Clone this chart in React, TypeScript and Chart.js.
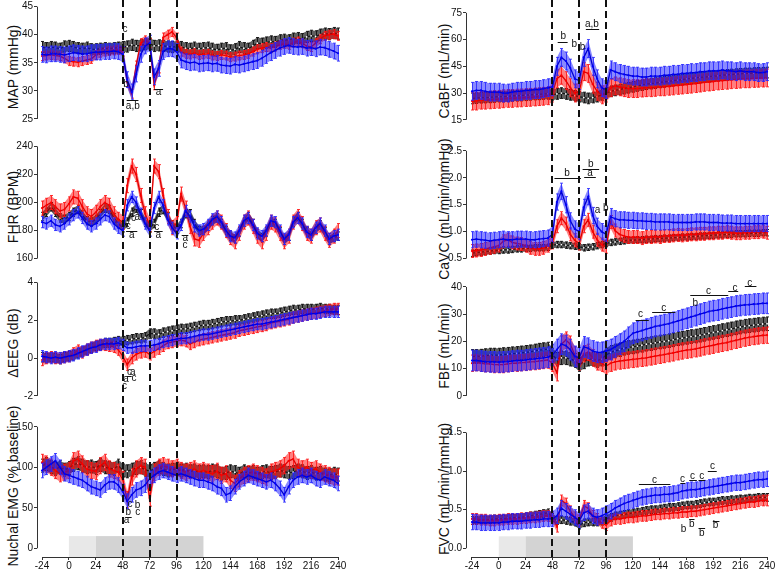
import React, { useEffect, useRef } from "react";
import { Chart, registerables } from "chart.js";

Chart.register(...registerables);

const FONT = '"Liberation Sans", Arial, Helvetica, sans-serif';

// ---------- time axis ----------
const HOURS = [
  -24, -20, -16, -12, -8, -4,
  0, 4, 8, 12, 16, 20,
  24, 28, 32, 36, 40, 44,
  48, 52, 56, 60, 64, 68,
  72, 76, 80, 84, 88, 92,
  96, 100, 104, 108, 112, 116,
  120, 124, 128, 132, 136, 140,
  144, 148, 152, 156, 160, 164,
  168, 172, 176, 180, 184, 188,
  192, 196, 200, 204, 208, 212,
  216, 220, 224, 228, 232, 236,
  240,
];
const X_TICKS = [-24, 0, 24, 48, 72, 96, 120, 144, 168, 192, 216, 240];
const EVENT_HOURS = [48, 72, 96];
const SHADE_LIGHT_HOURS = [0, 24];
const SHADE_DARK_HOURS = [24, 120];

// ---------- MAP ----------
const MAP_TICKS = [25, 30, 35, 40, 45];
const MAP_BLACK = [
  37.8, 37.6, 37.8, 37.7, 37.5, 37.9,
  38.0, 37.8, 37.6, 37.5, 37.7, 37.4,
  37.4, 37.5, 37.6, 37.5, 37.6, 37.7,
  37.8, 37.9, 38.2, 38.0, 38.1, 38.3,
  38.4, 38.0, 38.1, 38.0, 37.9, 37.8,
  37.9, 37.8, 37.6, 37.5, 37.7, 37.5,
  37.6, 37.7, 37.5, 37.3, 37.5, 37.6,
  37.2, 37.4, 37.8, 37.6, 37.5, 38.0,
  38.5, 38.4, 38.6, 38.8, 38.7, 39.0,
  39.1, 39.0, 39.3, 39.4, 39.2, 39.6,
  39.8, 39.7, 40.0, 40.2, 40.1, 40.3,
  40.2,
];
const MAP_RED = [
  36.2, 36.3, 36.4, 36.3, 36.2, 35.8,
  35.3, 35.2, 35.1, 35.3, 35.5, 35.7,
  36.4, 36.8, 37.0, 37.1, 37.2, 37.3,
  37.0, 31.5, 29.5, 34.5, 38.5, 39.0,
  38.5, 31.0, 34.0, 39.5, 40.0, 40.5,
  39.5, 37.0, 36.6, 36.5, 36.7, 36.4,
  36.5, 36.6, 36.3, 36.2, 36.4, 36.3,
  36.0, 36.1, 36.3, 36.4, 36.6, 37.0,
  37.4, 37.6, 37.8, 37.6, 37.9, 38.2,
  38.4, 38.2, 38.6, 38.8, 38.5, 38.0,
  37.8, 38.5, 39.2, 39.8, 40.0, 40.1,
  39.8,
];
const MAP_BLUE = [
  36.5, 36.4, 36.6, 36.6, 36.5, 36.4,
  36.6, 36.8, 36.7, 36.6, 36.6, 36.8,
  36.9, 36.9, 37.0, 37.0, 37.1, 37.0,
  36.5, 32.0, 29.8, 33.0, 36.5, 38.0,
  38.5, 32.5, 34.0, 37.0, 37.5, 37.5,
  37.0, 35.5, 35.2, 35.0, 35.1, 34.8,
  34.9, 35.0, 34.8, 34.9, 34.6, 34.5,
  34.4, 34.7, 34.6, 34.8, 35.0, 35.2,
  35.4, 35.8, 36.3, 36.8, 37.2, 37.6,
  37.9, 38.1, 37.9, 37.8, 37.9, 37.6,
  37.7, 37.5, 37.8, 37.7, 37.4, 37.1,
  36.7,
];
const MAP_SEM = [1.0, 0.8, 1.4];
const MAP_NOTES: [string, number, number][] = [["c", 50, 41.0], ["b", 51, 31.2], ["a,b", 57, 27.3], ["a", 80, 29.7]];
const MAP_RULES: [number, number, number][] = [[51.5, 62, 28.4], [76, 84, 30.4]];

// ---------- FHR ----------
const FHR_TICKS = [160, 180, 200, 220, 240];
const FHR_BLACK = [
  190, 193, 197, 193, 189, 188,
  190, 193, 195, 191, 187, 186,
  188, 192, 196, 195, 189, 185,
  182, 186, 193, 196, 192, 186,
  182, 185, 193, 195, 190, 184,
  181, 185, 192, 192, 185, 180,
  180, 183, 187, 189, 185, 180,
  176, 174, 179, 186, 190, 185,
  178, 175, 179, 186, 185, 179,
  173, 176, 186, 190, 185, 179,
  176, 181, 184, 179, 173, 175,
  176,
];
const FHR_RED = [
  196, 198, 200, 197, 194, 195,
  199, 204, 203, 197, 192, 190,
  193, 197, 200, 198, 192, 188,
  186, 212, 226, 220, 205, 192,
  184, 226, 222, 205, 190, 182,
  185, 206, 196, 183, 174, 173,
  178, 182, 186, 189, 186, 180,
  175, 172, 178, 186, 189, 183,
  176, 172, 178, 186, 184, 178,
  172, 176, 186, 190, 185, 178,
  176, 182, 184, 178, 173, 176,
  180,
];
const FHR_BLUE = [
  186, 185, 187, 184, 183, 185,
  188, 191, 193, 189, 185, 183,
  185, 188, 191, 190, 185, 182,
  180, 198, 204, 200, 192, 185,
  180, 196, 204, 198, 188, 182,
  178, 184, 194, 190, 183, 180,
  181, 184, 188, 190, 186, 180,
  176, 175, 180, 187, 189, 184,
  178, 176, 180, 187, 186, 180,
  174, 177, 186, 189, 185, 179,
  177, 182, 185, 180, 174, 176,
  177,
];
const FHR_SEM = [3, 5, 4];
const FHR_NOTES: [string, number, number][] = [
  ["c", 53, 182.9], ["a", 56, 176.4], ["c", 57.5, 189.0], ["a", 61, 189.7],
  ["c", 78.3, 182.0], ["a", 79.8, 176.4],
  ["a", 103.9, 174.3], ["c", 103.6, 169.4],
];
const FHR_RULES: [number, number, number][] = [[51, 61, 179.9], [76, 83.6, 179.5], [100.6, 106.5, 176.8]];

// ---------- ΔEEG ----------
const EEG_TICKS = [-2, 0, 2, 4];
const EEG_BLACK = [
  0.05, 0.0, 0.05, 0.0, -0.05, 0.05,
  0.1, 0.15, 0.25, 0.35, 0.45, 0.55,
  0.65, 0.7, 0.8, 0.8, 0.85, 0.9,
  0.9, 0.95, 1.0, 1.05, 1.05, 1.1,
  1.3, 1.3, 1.25, 1.35, 1.4, 1.45,
  1.5, 1.55, 1.55, 1.6, 1.65, 1.7,
  1.75, 1.75, 1.8, 1.85, 1.9, 1.95,
  1.95, 2.0, 2.0, 2.05, 2.1, 2.15,
  2.2, 2.25, 2.3, 2.35, 2.35, 2.4,
  2.45, 2.5, 2.55, 2.55, 2.6, 2.6,
  2.6, 2.6, 2.65, 2.6, 2.6, 2.55,
  2.55,
];
const EEG_RED = [
  -0.1, 0.0, 0.05, 0.0, 0.0, 0.05,
  0.1, 0.25, 0.4, 0.3, 0.45, 0.55,
  0.65, 0.7, 0.7, 0.65, 0.6, 0.45,
  0.1, -0.35, 0.0, 0.2, 0.3, 0.35,
  0.2, 0.35, 0.5, 0.65, 0.8, 0.85,
  0.9, 0.95, 0.9, 0.75, 0.85, 0.95,
  1.0, 1.05, 1.1, 1.15, 1.2, 1.25,
  1.3, 1.35, 1.45, 1.5, 1.55, 1.6,
  1.65, 1.7, 1.75, 1.85, 1.9, 1.95,
  2.0, 2.05, 2.15, 2.2, 2.25, 2.3,
  2.35, 2.4, 2.45, 2.5, 2.55, 2.6,
  2.6,
];
const EEG_BLUE = [
  0.1, 0.05, 0.0, 0.05, 0.0, 0.05,
  0.1, 0.15, 0.25, 0.35, 0.45, 0.55,
  0.6, 0.7, 0.75, 0.75, 0.75, 0.8,
  0.7, 0.55, 0.55, 0.6, 0.65, 0.65,
  0.65, 0.7, 0.75, 0.85, 0.9, 0.95,
  1.0, 1.05, 1.05, 1.1, 1.15, 1.2,
  1.25, 1.25, 1.3, 1.35, 1.4, 1.45,
  1.5, 1.55, 1.6, 1.65, 1.7, 1.75,
  1.8, 1.8, 1.85, 1.9, 1.95, 2.0,
  2.05, 2.1, 2.15, 2.2, 2.25, 2.3,
  2.35, 2.35, 2.4, 2.45, 2.45, 2.45,
  2.45,
];
const EEG_SEM = [0.25, 0.3, 0.3];
const EEG_NOTES: [string, number, number][] = [
  ["c", 54, -0.74], ["a", 57, -0.74], ["c", 58, -1.05], ["a", 51, -1.1], ["c", 49.5, -1.5],
];
const EEG_RULES: [number, number, number][] = [[51.5, 56, -0.92]];

// ---------- Nuchal EMG ----------
const EMG_TICKS = [0, 50, 100, 150];
const EMG_BLACK = [
  102, 104, 100, 98, 100, 97,
  99, 103, 105, 102, 100, 101,
  99, 103, 100, 99, 98, 102,
  96, 95, 97, 99, 100, 97,
  95, 98, 100, 98, 96, 97,
  98, 96, 97, 95, 96, 94,
  95, 94, 96, 95, 92, 93,
  95, 94, 92, 95, 93, 94,
  92, 94, 95, 93, 94, 96,
  95, 93, 94, 96, 95, 93,
  94, 92, 93, 91, 90, 92,
  91,
];
const EMG_RED = [
  106, 104, 100, 96, 92, 94,
  96, 108, 110, 104, 98, 96,
  95, 102, 106, 98, 96, 94,
  85, 60, 88, 98, 102, 100,
  62, 94, 100, 102, 100, 98,
  100, 96, 94, 96, 98, 94,
  96, 94, 92, 95, 90, 92,
  84, 80, 86, 90, 92, 94,
  92, 90, 88, 94, 96, 98,
  102, 108, 110, 100, 98, 100,
  96, 98, 94, 92, 90, 88,
  88,
];
const EMG_BLUE = [
  96, 100, 104, 108, 100, 92,
  90, 88, 86, 84, 80, 76,
  74, 72, 78, 82, 82, 78,
  70, 58, 66, 72, 74, 78,
  86, 90, 94, 96, 94, 92,
  90, 92, 90, 88, 86, 84,
  84, 82, 80, 76, 74, 66,
  68, 76, 82, 86, 90, 88,
  86, 84, 82, 84, 80, 74,
  66, 76, 84, 88, 90, 88,
  90, 86, 84, 88, 86, 84,
  80,
];
const EMG_SEM = [8, 10, 9];
const EMG_NOTES: [string, number, number][] = [
  ["c", 54.5, 54.8], ["b", 53, 44.8], ["a", 51.5, 34], ["b", 61.3, 52.8], ["c", 61.3, 44],
];
const EMG_RULES: [number, number, number][] = [[50.5, 56, 39]];

// ---------- CaBF ----------
const CABF_TICKS = [15, 30, 45, 60, 75];
const CABF_BLACK = [
  27.0, 27.2, 27.4, 27.5, 27.6, 27.8,
  28.0, 28.0, 28.2, 28.4, 28.5, 28.6,
  28.8, 29.0, 29.2, 29.3, 29.5, 29.6,
  29.0, 29.5, 30.0, 29.5, 29.0, 28.5,
  28.0, 27.5, 27.0, 27.5, 28.0, 29.0,
  30.0, 31.0, 31.5, 32.0, 32.5, 33.0,
  33.5, 34.0, 34.5, 35.0, 35.3, 35.6,
  36.0, 36.3, 36.6, 37.0, 37.3, 37.6,
  38.0, 38.2, 38.5, 38.8, 39.0, 39.2,
  39.5, 39.7, 40.0, 40.2, 40.4, 40.6,
  40.8, 41.0, 41.0, 41.2, 41.3, 41.4,
  41.5,
];
const CABF_RED = [
  25.5, 25.5, 26.0, 26.0, 26.2, 26.4,
  26.5, 26.8, 27.0, 27.0, 27.2, 27.3,
  27.5, 27.6, 27.8, 28.0, 28.2, 28.5,
  30.0, 38.0, 40.0, 37.0, 33.0, 30.0,
  31.0, 42.0, 41.0, 35.0, 31.0, 29.0,
  30.0, 33.0, 34.0, 33.5, 33.0, 32.5,
  32.5, 32.5, 32.8, 33.0, 33.0, 33.2,
  33.5, 33.5, 33.8, 34.0, 34.3, 34.5,
  34.8, 35.0, 35.3, 35.6, 36.0, 36.2,
  36.5, 36.8, 37.0, 37.2, 37.5, 37.6,
  37.8, 38.0, 38.0, 38.2, 38.3, 38.4,
  38.5,
];
const CABF_BLUE = [
  31.0, 31.5, 31.5, 31.0, 30.5, 30.5,
  30.5, 30.0, 30.0, 30.5, 31.0, 31.0,
  31.5, 31.5, 32.0, 32.0, 32.5, 33.0,
  33.5, 45.0, 50.0, 48.0, 44.0, 38.0,
  37.0, 50.0, 55.0, 45.0, 38.0, 33.0,
  32.0, 43.0, 42.0, 41.0, 40.5, 40.0,
  39.5, 39.5, 39.0, 39.0, 39.5, 39.5,
  39.5, 40.0, 40.0, 40.5, 40.5, 41.0,
  41.0, 41.5, 41.5, 42.0, 42.0, 42.5,
  42.5, 42.5, 43.0, 42.5, 42.5, 42.0,
  42.5, 42.0, 42.0, 42.0, 41.5, 41.5,
  42.0,
];
const CABF_SEM = [3, 5, 5];
const CABF_NOTES: [string, number, number][] = [
  ["b", 57.8, 62.1], ["b", 67.6, 57.6], ["b", 75, 55.9], ["a,b", 83.3, 68.4],
];
const CABF_RULES: [number, number, number][] = [[52.7, 61.6, 58.8], [77.9, 89.8, 65.9]];

// ---------- CaVC ----------
const CAVC_TICKS = [0.5, 1.0, 1.5, 2.0, 2.5];
const CAVC_BLACK = [
  0.60, 0.61, 0.62, 0.63, 0.64, 0.65,
  0.65, 0.66, 0.66, 0.67, 0.68, 0.68,
  0.69, 0.69, 0.70, 0.70, 0.70, 0.71,
  0.75, 0.76, 0.76, 0.75, 0.74, 0.73,
  0.72, 0.70, 0.71, 0.72, 0.74, 0.76,
  0.78, 0.80, 0.81, 0.82, 0.83, 0.84,
  0.84, 0.85, 0.85, 0.86, 0.86, 0.87,
  0.87, 0.88, 0.88, 0.89, 0.89, 0.90,
  0.90, 0.91, 0.91, 0.92, 0.92, 0.93,
  0.93, 0.94, 0.94, 0.95, 0.95, 0.96,
  0.96, 0.96, 0.97, 0.97, 0.97, 0.98,
  0.98,
];
const CAVC_RED = [
  0.64, 0.65, 0.66, 0.68, 0.70, 0.72,
  0.74, 0.82, 0.85, 0.80, 0.78, 0.77,
  0.74, 0.70, 0.68, 0.68, 0.70, 0.74,
  0.80, 1.10, 1.25, 1.15, 0.95, 0.84,
  0.78, 1.10, 1.22, 1.00, 0.85, 0.76,
  0.72, 1.18, 1.02, 0.95, 0.92, 0.90,
  0.90, 0.90, 0.88, 0.90, 0.90, 0.91,
  0.90, 0.92, 0.92, 0.93, 0.94, 0.93,
  0.94, 0.95, 0.95, 0.96, 0.96, 0.97,
  0.97, 0.98, 0.98, 0.99, 0.98, 0.97,
  0.97, 0.98, 0.98, 0.99, 0.99, 1.00,
  0.98,
];
const CAVC_BLUE = [
  0.85, 0.86, 0.85, 0.84, 0.83, 0.84,
  0.85, 0.86, 0.85, 0.85, 0.86, 0.86,
  0.86, 0.85, 0.85, 0.86, 0.87, 0.88,
  0.95, 1.55, 1.75, 1.50, 1.20, 1.05,
  1.00, 1.45, 1.65, 1.30, 1.10, 1.00,
  0.95, 1.28, 1.24, 1.22, 1.22, 1.21,
  1.21, 1.20, 1.20, 1.19, 1.19, 1.18,
  1.18, 1.18, 1.18, 1.17, 1.17, 1.17,
  1.17, 1.17, 1.18, 1.18, 1.18, 1.17,
  1.17, 1.17, 1.16, 1.16, 1.16, 1.15,
  1.15, 1.15, 1.15, 1.15, 1.15, 1.15,
  1.15,
];
const CAVC_SEM = [0.06, 0.12, 0.15];
const CAVC_NOTES: [string, number, number][] = [
  ["b", 61, 2.08], ["b", 82.4, 2.25], ["a", 81.6, 2.09], ["a", 88.3, 1.4], ["b", 95.7, 1.43],
];
const CAVC_RULES: [number, number, number][] = [[49.8, 73.5, 2.0], [75, 89.8, 2.17], [76.4, 86.8, 2.02]];

// ---------- FBF ----------
const FBF_TICKS = [0, 10, 20, 30, 40];
const FBF_BLACK = [
  14.5, 14.5, 14.6, 14.8, 15.0, 15.0,
  15.0, 15.2, 15.3, 15.5, 15.6, 15.8,
  16.0, 16.2, 16.5, 16.8, 17.0, 17.2,
  15.0, 13.5, 14.0, 14.0, 13.5, 13.0,
  11.5, 12.5, 13.5, 13.5, 13.0, 13.5,
  15.0, 16.0, 16.5, 17.0, 17.5, 17.8,
  18.0, 18.3, 18.6, 19.0, 19.2, 19.5,
  19.8, 20.0, 20.3, 20.6, 21.0, 21.2,
  21.5, 21.8, 22.0, 22.3, 22.6, 23.0,
  23.3, 23.6, 24.0, 24.3, 24.6, 25.0,
  25.3, 25.6, 25.8, 26.0, 26.2, 26.4,
  26.5,
];
const FBF_RED = [
  12.0, 12.2, 12.0, 11.8, 11.8, 11.5,
  11.5, 11.5, 11.8, 12.0, 12.0, 12.2,
  12.3, 12.5, 12.6, 12.8, 13.0, 13.2,
  12.0, 8.5, 19.0, 20.5, 19.0, 15.0,
  12.5, 15.5, 16.0, 14.0, 12.5, 12.0,
  11.0, 12.0, 12.5, 12.8, 13.0, 13.2,
  13.4, 13.6, 13.8, 14.0, 14.3, 14.6,
  14.9, 15.2, 15.5, 15.8, 16.2, 16.5,
  16.8, 17.0, 17.3, 17.6, 18.0, 18.3,
  18.6, 19.0, 19.3, 19.6, 20.0, 20.4,
  20.8, 21.2, 21.5, 21.8, 22.0, 22.2,
  22.3,
];
const FBF_BLUE = [
  13.0, 13.0, 12.8, 12.6, 12.5, 12.5,
  12.4, 12.5, 12.6, 12.8, 13.0, 13.0,
  13.2, 13.4, 13.6, 13.8, 14.0, 14.2,
  15.0, 17.0, 19.0, 18.5, 17.0, 14.5,
  14.0, 18.0, 17.5, 16.5, 16.0, 16.0,
  16.5, 17.0, 18.0, 19.0, 20.0, 21.5,
  23.0, 23.5, 24.0, 24.5, 25.0, 25.5,
  25.8, 26.2, 26.5, 27.0, 27.5, 28.0,
  28.5, 29.0, 29.5, 30.0, 30.5, 31.0,
  31.3, 31.5, 32.0, 32.3, 32.6, 33.0,
  33.2, 33.4, 33.5, 33.7, 33.8, 34.0,
  34.0,
];
const FBF_SEM = [2.5, 3, 3.8];
const FBF_NOTES: [string, number, number][] = [
  ["c", 126.8, 29.9], ["c", 147.6, 32.1], ["c", 187.6, 38.6], ["b", 175.7, 34.2],
  ["c", 211.3, 39.7], ["c", 224.6, 41.4],
];
const FBF_RULES: [number, number, number][] = [
  [122.4, 134.2, 28.0], [137.2, 158, 30.7], [171.3, 205.3, 37.2], [205.3, 214.2, 38.4], [220.1, 230.5, 40.2],
];

// ---------- FVC ----------
const FVC_TICKS = [0.0, 0.5, 1.0, 1.5];
const FVC_BLACK = [
  0.36, 0.36, 0.37, 0.37, 0.37, 0.38,
  0.38, 0.38, 0.39, 0.39, 0.40, 0.40,
  0.41, 0.42, 0.43, 0.44, 0.45, 0.46,
  0.40, 0.36, 0.37, 0.36, 0.35, 0.34,
  0.30, 0.33, 0.34, 0.34, 0.34, 0.35,
  0.38, 0.40, 0.42, 0.43, 0.44, 0.45,
  0.46, 0.47, 0.48, 0.49, 0.50, 0.50,
  0.51, 0.52, 0.53, 0.53, 0.54, 0.55,
  0.56, 0.56, 0.57, 0.58, 0.59, 0.60,
  0.60, 0.61, 0.62, 0.62, 0.63, 0.63,
  0.64, 0.64, 0.65, 0.65, 0.66, 0.66,
  0.66,
];
const FVC_RED = [
  0.38, 0.38, 0.37, 0.37, 0.36, 0.36,
  0.37, 0.37, 0.38, 0.38, 0.38, 0.39,
  0.39, 0.40, 0.40, 0.41, 0.42, 0.42,
  0.40, 0.28, 0.62, 0.58, 0.48, 0.40,
  0.36, 0.55, 0.52, 0.42, 0.38, 0.33,
  0.30, 0.36, 0.38, 0.38, 0.39, 0.40,
  0.40, 0.41, 0.42, 0.42, 0.43, 0.44,
  0.44, 0.45, 0.45, 0.46, 0.46, 0.47,
  0.47, 0.48, 0.48, 0.49, 0.50, 0.51,
  0.52, 0.53, 0.54, 0.55, 0.56, 0.57,
  0.58, 0.59, 0.60, 0.60, 0.61, 0.62,
  0.62,
];
const FVC_BLUE = [
  0.34, 0.34, 0.33, 0.33, 0.33, 0.33,
  0.33, 0.34, 0.34, 0.35, 0.35, 0.35,
  0.36, 0.36, 0.37, 0.37, 0.38, 0.38,
  0.38, 0.42, 0.52, 0.48, 0.44, 0.40,
  0.36, 0.46, 0.48, 0.42, 0.40, 0.42,
  0.45, 0.48, 0.52, 0.55, 0.58, 0.60,
  0.62, 0.64, 0.66, 0.67, 0.68, 0.69,
  0.69, 0.70, 0.70, 0.71, 0.72, 0.74,
  0.75, 0.76, 0.76, 0.77, 0.78, 0.79,
  0.80, 0.81, 0.82, 0.83, 0.84, 0.85,
  0.85, 0.86, 0.87, 0.88, 0.89, 0.89,
  0.90,
];
const FVC_SEM = [0.05, 0.07, 0.1];
const FVC_NOTES: [string, number, number][] = [
  ["c", 139.3, 0.882], ["c", 164.4, 0.9], ["c", 173.3, 0.937], ["c", 181.6, 0.937], ["c", 191.1, 1.07],
  ["b", 165.3, 0.252], ["b", 172.7, 0.315], ["b", 181.6, 0.197], ["b", 194, 0.294],
];
const FVC_RULES: [number, number, number][] = [
  [125.3, 153.5, 0.832], [162.4, 166.8, 0.85], [170.4, 177.2, 0.89], [178.7, 184.6, 0.89], [187, 195, 1.008],
  [170.4, 175.1, 0.378], [178.7, 184.6, 0.265], [191.5, 197.4, 0.357],
];

// ---------- layout ----------
const COLS = [
  { left: 0, width: 360, axisX: 37, firstPx: 42, lastPx: 338, rightPx: 352, titleX: 13 },
  { left: 400, width: 378, axisX: 466, firstPx: 472, lastPx: 769, rightPx: 776, titleX: 444 },
];
const ROWS = [
  { top: 0, h: 138 },
  { top: 138, h: 137 },
  { top: 275, h: 140 },
  { top: 415, h: 154 },
];
const X_AXIS_Y = 557;

const STYLES = [
  { line: "#151515", point: "#ffffff", band: "rgba(50,50,50,0.78)", bar: "rgba(20,20,20,0.95)", order: 3 },
  { line: "#e00000", point: "#ff0000", band: "rgba(255,0,0,0.5)", bar: "rgba(255,20,20,0.85)", order: 2 },
  { line: "#0000d0", point: "#0000ff", band: "rgba(20,20,255,0.5)", bar: "rgba(40,40,255,0.85)", order: 1 },
];

type Panel = {
  col: number; row: number; title: string; ticks: number[]; decimals: number;
  px: [number, number]; series: number[][]; sem: number[];
  notes: [string, number, number][]; rules: [number, number, number][]; shadeTop?: number;
};

const PANELS: Panel[] = [
  { col: 0, row: 0, title: "MAP (mmHg)", ticks: MAP_TICKS, decimals: 0, px: [3, 130], series: [MAP_BLACK, MAP_RED, MAP_BLUE], sem: MAP_SEM, notes: MAP_NOTES, rules: MAP_RULES },
  { col: 0, row: 1, title: "FHR (BPM)", ticks: FHR_TICKS, decimals: 0, px: [143, 270], series: [FHR_BLACK, FHR_RED, FHR_BLUE], sem: FHR_SEM, notes: FHR_NOTES, rules: FHR_RULES },
  { col: 0, row: 2, title: "ΔEEG (dB)", ticks: EEG_TICKS, decimals: 0, px: [279, 407], series: [EEG_BLACK, EEG_RED, EEG_BLUE], sem: EEG_SEM, notes: EEG_NOTES, rules: EEG_RULES },
  { col: 0, row: 3, title: "Nuchal EMG (% baseline)", ticks: EMG_TICKS, decimals: 0, px: [423, 548], series: [EMG_BLACK, EMG_RED, EMG_BLUE], sem: EMG_SEM, notes: EMG_NOTES, rules: EMG_RULES, shadeTop: 15 },
  { col: 1, row: 0, title: "CaBF (mL/min)", ticks: CABF_TICKS, decimals: 0, px: [10, 131], series: [CABF_BLACK, CABF_RED, CABF_BLUE], sem: CABF_SEM, notes: CABF_NOTES, rules: CABF_RULES },
  { col: 1, row: 1, title: "CaVC (mL/min/mmHg)", ticks: CAVC_TICKS, decimals: 1, px: [148, 270], series: [CAVC_BLACK, CAVC_RED, CAVC_BLUE], sem: CAVC_SEM, notes: CAVC_NOTES, rules: CAVC_RULES },
  { col: 1, row: 2, title: "FBF (mL/min)", ticks: FBF_TICKS, decimals: 0, px: [284, 407], series: [FBF_BLACK, FBF_RED, FBF_BLUE], sem: FBF_SEM, notes: FBF_NOTES, rules: FBF_RULES },
  { col: 1, row: 3, title: "FVC (mL/min/mmHg)", ticks: FVC_TICKS, decimals: 1, px: [429, 548], series: [FVC_BLACK, FVC_RED, FVC_BLUE], sem: FVC_SEM, notes: FVC_NOTES, rules: FVC_RULES, shadeTop: 0.155 },
];

function PanelChart({ p }: { p: Panel }) {
  const ref = useRef<HTMLCanvasElement>(null);
  const col = COLS[p.col];
  const row = ROWS[p.row];

  useEffect(() => {
    if (!ref.current) return;
    const bottom = p.row === 3;
    const areaTop = row.top;
    const areaBottom = bottom ? X_AXIS_Y : row.top + row.h;
    const tMin = p.ticks[0];
    const tMax = p.ticks[p.ticks.length - 1];
    const k = (p.px[1] - p.px[0]) / (tMax - tMin);
    const yMax = tMax + (p.px[0] - areaTop) / k;
    const yMin = tMin - (areaBottom - p.px[1]) / k;
    const x0 = X_TICKS[0];
    const x1 = X_TICKS[X_TICKS.length - 1];
    const hk = (col.lastPx - col.firstPx) / (x1 - x0);
    const xMin = x0 - (col.firstPx - col.axisX) / hk;
    const xMax = x0 + (col.rightPx - col.firstPx) / hk;

    const errorBars = {
      id: "errorBars",
      beforeDatasetDraw(chart: any, args: any) {
        const ds: any = chart.data.datasets[args.index];
        const meta = args.meta;
        const ys = chart.scales.y;
        const ctx = chart.ctx;
        const pts = ds.data;
        ctx.save();
        ctx.beginPath();
        pts.forEach((pt: any, i: number) => {
          const x = meta.data[i].x;
          const y = ys.getPixelForValue(pt.y + ds.sem);
          if (i === 0) ctx.moveTo(x, y);
          else ctx.lineTo(x, y);
        });
        for (let i = pts.length - 1; i >= 0; i--) {
          ctx.lineTo(meta.data[i].x, ys.getPixelForValue(pts[i].y - ds.sem));
        }
        ctx.closePath();
        ctx.fillStyle = ds.bandColor;
        ctx.fill();
        ctx.strokeStyle = ds.barColor;
        ctx.lineWidth = 1;
        ctx.beginPath();
        pts.forEach((pt: any, i: number) => {
          const x = Math.round(meta.data[i].x) + 0.5;
          const ya = ys.getPixelForValue(pt.y + ds.sem);
          const yb = ys.getPixelForValue(pt.y - ds.sem);
          ctx.moveTo(x, ya);
          ctx.lineTo(x, yb);
          ctx.moveTo(x - 1.5, ya);
          ctx.lineTo(x + 1.5, ya);
          ctx.moveTo(x - 1.5, yb);
          ctx.lineTo(x + 1.5, yb);
        });
        ctx.stroke();
        ctx.restore();
      },
    };

    const overlay = {
      id: "overlay",
      beforeDatasetsDraw(chart: any) {
        if (p.shadeTop === undefined) return;
        const { ctx, chartArea } = chart;
        const xs = chart.scales.x;
        const ys = chart.scales.y;
        const yTop = ys.getPixelForValue(p.shadeTop);
        ctx.save();
        const a = xs.getPixelForValue(SHADE_LIGHT_HOURS[0]);
        const b = xs.getPixelForValue(SHADE_LIGHT_HOURS[1]);
        const c = xs.getPixelForValue(SHADE_DARK_HOURS[0]);
        const d = xs.getPixelForValue(SHADE_DARK_HOURS[1]);
        ctx.fillStyle = "#e8e8e8";
        ctx.fillRect(a, yTop, b - a, chartArea.bottom - yTop);
        ctx.fillStyle = "#d3d3d3";
        ctx.fillRect(c, yTop, d - c, chartArea.bottom - yTop);
        ctx.restore();
      },
      afterDraw(chart: any) {
        const { ctx, chartArea } = chart;
        const xs = chart.scales.x;
        const ys = chart.scales.y;
        ctx.save();
        ctx.strokeStyle = "#333";
        ctx.lineWidth = 1;
        ctx.beginPath();
        const ax = Math.round(chartArea.left) + 0.5;
        ctx.moveTo(ax, ys.getPixelForValue(tMax));
        ctx.lineTo(ax, ys.getPixelForValue(tMin));
        if (bottom) {
          const ay = Math.round(chartArea.bottom) + 0.5;
          ctx.moveTo(xs.getPixelForValue(x0), ay);
          ctx.lineTo(xs.getPixelForValue(x1), ay);
        }
        ctx.stroke();

        ctx.setLineDash([7, 4]);
        ctx.lineDashOffset = row.top % 11;
        ctx.lineWidth = 2;
        ctx.strokeStyle = "#111";
        EVENT_HOURS.forEach((h) => {
          const x = Math.round(xs.getPixelForValue(h));
          ctx.beginPath();
          ctx.moveTo(x, 0);
          ctx.lineTo(x, bottom ? chartArea.bottom : chart.height);
          ctx.stroke();
        });
        ctx.setLineDash([]);

        ctx.fillStyle = "#111";
        ctx.font = `10px ${FONT}`;
        ctx.textAlign = "center";
        ctx.textBaseline = "middle";
        p.notes.forEach(([s, h, v]) => ctx.fillText(s, xs.getPixelForValue(h), ys.getPixelForValue(v)));
        ctx.lineWidth = 1;
        ctx.strokeStyle = "#111";
        p.rules.forEach(([h1, h2, v]) => {
          const y = Math.round(ys.getPixelForValue(v)) + 0.5;
          ctx.beginPath();
          ctx.moveTo(xs.getPixelForValue(h1), y);
          ctx.lineTo(xs.getPixelForValue(h2), y);
          ctx.stroke();
        });
        ctx.restore();
      },
    };

    const datasets = p.series.map((vals, si) => ({
      label: ["black", "red", "blue"][si],
      data: HOURS.map((h, i) => ({ x: h, y: vals[i] })),
      borderColor: STYLES[si].line,
      borderWidth: 1.3,
      pointRadius: si === 0 ? 0.9 : 1.1,
      pointBackgroundColor: STYLES[si].point,
      pointBorderWidth: 0,
      fill: false,
      tension: 0,
      order: STYLES[si].order,
      sem: p.sem[si],
      bandColor: STYLES[si].band,
      barColor: STYLES[si].bar,
    }));

    const chart = new Chart(ref.current, {
      type: "line",
      data: { datasets: datasets as any },
      options: {
        responsive: false,
        animation: false,
        devicePixelRatio: 1,
        layout: { padding: { left: 0, right: col.left + col.width - col.rightPx, top: 0, bottom: 0 } },
        plugins: { legend: { display: false }, tooltip: { enabled: false } },
        scales: {
          x: {
            type: "linear",
            min: xMin,
            max: xMax,
            display: bottom,
            afterBuildTicks: (s: any) => {
              s.ticks = X_TICKS.map((v) => ({ value: v }));
            },
            afterFit: (s: any) => {
              s.height = 569 - X_AXIS_Y;
              s.paddingLeft = 0;
              s.paddingRight = 0;
            },
            grid: { drawOnChartArea: false, drawTicks: true, tickLength: 3, color: "#333" },
            border: { display: false },
            ticks: {
              font: { family: FONT, size: 10 },
              color: "#111",
              padding: 0,
              maxRotation: 0,
              autoSkip: false,
              callback: (v: any) => String(v),
            },
          },
          y: {
            type: "linear",
            min: yMin,
            max: yMax,
            afterBuildTicks: (s: any) => {
              s.ticks = p.ticks.map((v) => ({ value: v }));
            },
            afterFit: (s: any) => {
              s.width = col.axisX - col.left;
              s.paddingTop = 0;
              s.paddingBottom = 0;
            },
            grid: { drawOnChartArea: false, drawTicks: true, tickLength: 3, color: "#333" },
            border: { display: false },
            ticks: {
              font: { family: FONT, size: 10 },
              color: "#111",
              padding: 1,
              autoSkip: false,
              callback: (v: any) => Number(v).toFixed(p.decimals),
            },
          },
        },
      },
      plugins: [errorBars, overlay],
    } as any);
    return () => chart.destroy();
  }, [p]);

  return (
    <canvas
      ref={ref}
      width={col.width}
      height={row.h}
      style={{ position: "absolute", left: col.left, top: row.top, width: col.width, height: row.h }}
    />
  );
}

export default function App() {
  return (
    <div style={{ position: "absolute", left: 0, top: 0, width: 778, height: 569, background: "#fff", overflow: "hidden" }}>
      {PANELS.map((p, i) => (
        <div
          key={"t" + i}
          style={{
            position: "absolute",
            left: COLS[p.col].titleX,
            top: (p.px[0] + p.px[1]) / 2,
            transform: "translate(-50%, -50%) rotate(-90deg)",
            whiteSpace: "nowrap",
            fontFamily: FONT,
            fontSize: 14,
            color: "#111",
            lineHeight: "16px",
          }}
        >
          {p.title}
        </div>
      ))}
      {PANELS.map((p, i) => (
        <PanelChart key={"c" + i} p={p} />
      ))}
    </div>
  );
}
